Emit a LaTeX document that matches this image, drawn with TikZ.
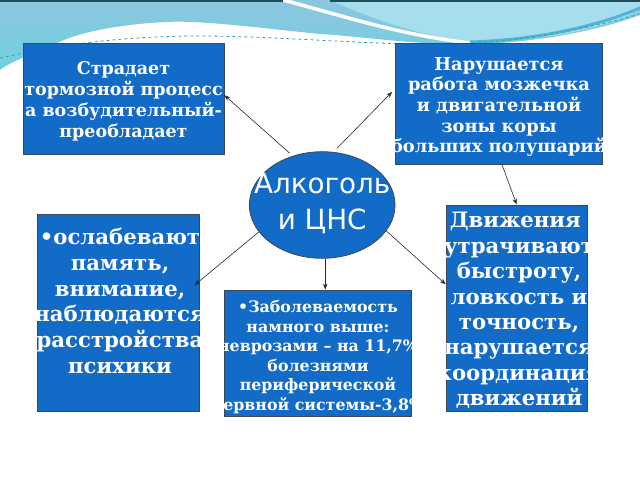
\documentclass[tikz,border=0pt]{standalone}
\usepackage{fontspec}
\setmainfont{DejaVu Serif}
\newfontfamily\dsans{DejaVu Sans}
\usetikzlibrary{arrows.meta,shapes.geometric}
\definecolor{boxblue}{RGB}{18,107,198}
\definecolor{boxline}{RGB}{60,72,86}
\definecolor{arr}{RGB}{40,40,40}
\definecolor{cyanA}{RGB}{140,198,222}
\definecolor{cyanB}{RGB}{112,208,226}
\definecolor{lensc}{RGB}{166,222,238}
\definecolor{swoosh}{RGB}{80,180,214}
\definecolor{dashc}{RGB}{50,160,176}
\definecolor{topline}{RGB}{30,78,92}
\tikzset{
  box/.style={draw=boxline, line width=0.8pt, fill=boxblue, rectangle, inner sep=0pt},
  txt/.style={text=white, align=center, inner sep=0pt, font=\bfseries},
  conn/.style={draw=arr, line width=0.6pt, -{Stealth[length=6pt,width=4.5pt]}},
}
\begin{document}
\begin{tikzpicture}[x=1pt,y=-1pt]
\useasboundingbox (0,0) rectangle (640,480);
\fill[white] (0,0) rectangle (640,480);
% decorative top
\shade[top color=cyanA, bottom color=cyanB]
  (0,0) -- (640,0) -- (640,15) .. controls (600,30) and (540,42) .. (480,44)
  .. controls (420,46) and (360,36) .. (320,34)
  .. controls (260,28) and (200,20) .. (167,22)
  .. controls (120,24) and (80,32) .. (57,43)
  .. controls (30,55) and (10,62) .. (0,70) -- cycle;
\fill[lensc] (330,0) -- (640,0) -- (640,10) .. controls (590,35) and (520,42) .. (470,42)
  .. controls (420,36) and (370,18) .. (330,0) -- cycle;
\draw[white, line width=3.5pt] (283,0) .. controls (340,15) and (400,35) .. (470,43);
\draw[swoosh, line width=3pt] (470,42) .. controls (540,40) and (600,25) .. (640,8);
\draw[dashc, dashed, line width=0.8pt] (0,58) .. controls (60,45) and (120,36) .. (200,36)
  .. controls (280,36) and (380,46) .. (460,44) .. controls (540,40) and (600,25) .. (640,14);
\draw[topline, line width=1.5pt] (0,0.75) -- (283,0.75);
\draw[topline, line width=1.5pt] (330,0.75) -- (640,0.75);

% boxes
\node[box, minimum width=201pt, minimum height=111pt] (b1) at (123.5,98.7) {};
\node[box, minimum width=207.4pt, minimum height=121pt] (b2) at (499,103.8) {};
\node[box, minimum width=161.6pt, minimum height=196.7pt] (b3) at (118.5,312.7) {};
\node[box, minimum width=187.7pt, minimum height=126pt] (b4) at (318,353) {};
\node[box, minimum width=141.3pt, minimum height=206.7pt] (b5) at (516.7,308.3) {};
\node[box, ellipse, minimum width=145.7pt, minimum height=106.6pt] (ell) at (322.2,205) {};

% texts
\node[txt, font=\bfseries\fontsize{17.5}{21.1}\selectfont] (t1) at (123.5,101)
  {Страдает\\тормозной процесс\\а возбудительный-\\преобладает};
\node[txt, font=\bfseries\fontsize{17.8}{20.7}\selectfont] (t2) at (499,107)
  {Нарушается\\работа мозжечка\\и двигательной\\зоны коры\\больших полушарий};
\node[txt, font=\bfseries\fontsize{21.2}{25.8}\selectfont] (t3) at (120,301)
  {•ослабевают\\память,\\внимание,\\наблюдаются\\расстройства\\психики};
\node[txt, font=\bfseries\fontsize{15.8}{19.6}\selectfont] (t4) at (318,357)
  {•Заболеваемость\\намного выше:\\неврозами – на 11,7\%\\болезнями\\периферической\\нервной системы-3,8\%};
\node[txt, font=\bfseries\fontsize{21.2}{25.4}\selectfont] (t5) at (519,310.5)
  {Движения\hphantom{ }\\утрачивают\\быстроту,\\ловкость и\\точность,\\нарушается\\координация\\движений};
\node[txt, font=\dsans\fontsize{27.8}{36}\selectfont] (te) at (322.2,204)
  {Алкоголь\\и ЦНС};

% connectors
\draw[conn, shorten <=4pt] (ell.121) -- ([yshift=3.5pt]b1.east);
\draw[conn, shorten <=5pt, shorten >=4pt] (ell.78) -- ([yshift=14.8pt]b2.west);
\draw[conn] ([xshift=3pt]b2.south) -- (b5.north);
\draw[conn] (ell.203) -- ([xshift=-5pt,yshift=27.7pt]b3.east);
\draw[conn] ([xshift=3pt]ell.south) -- ([xshift=3pt]ell.south |- b4.north);
\draw[conn] (ell.338) -- ([yshift=24pt]b5.west);
\end{tikzpicture}
\end{document}
